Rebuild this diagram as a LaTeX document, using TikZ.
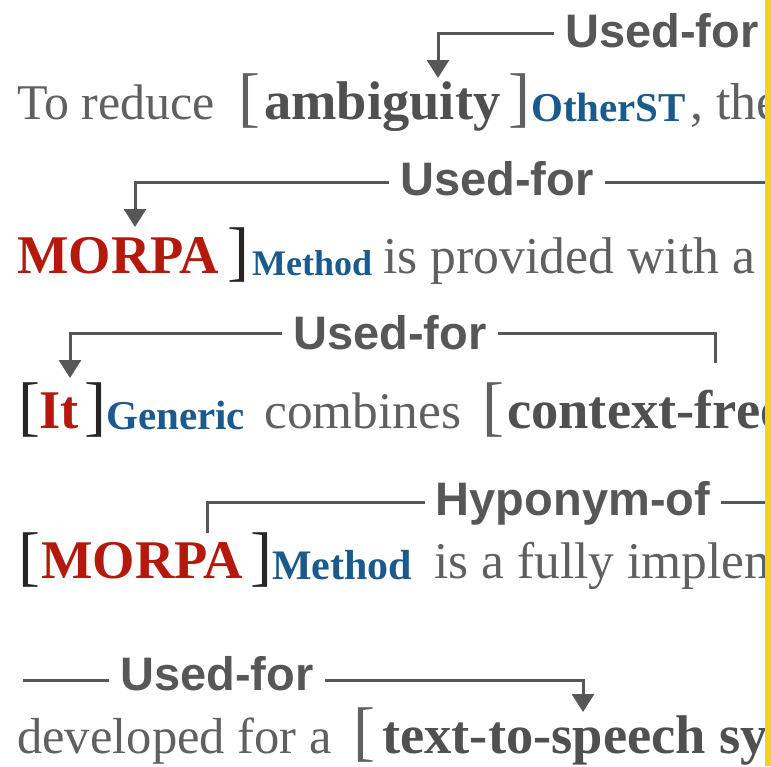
\documentclass[tikz,border=0pt]{standalone}
\usepackage{fontspec}
\setmainfont{Liberation Serif}
\newfontfamily\labelfont{Liberation Sans}
\usetikzlibrary{arrows.meta}

\definecolor{txt}{HTML}{606060}
\definecolor{entgrey}{HTML}{505050}
\definecolor{entred}{HTML}{B31A0D}
\definecolor{typeblue}{HTML}{1B5A8C}
\definecolor{relgrey}{HTML}{575757}
\definecolor{brkdark}{HTML}{262626}
\definecolor{edgeyellow}{HTML}{F4D121}
\definecolor{edgegrey}{HTML}{C8C8C8}

\tikzset{
  plain/.style={anchor=base west, inner sep=0pt, text=txt,
    font=\fontsize{#1}{#1}\selectfont},
  ent/.style={anchor=base west, inner sep=0pt, text=entgrey,
    font=\fontsize{54.5}{54.5}\selectfont\bfseries},
  redent/.style={ent, text=entred},
  etype/.style={anchor=base west, inner sep=0pt, text=typeblue,
    font=\fontsize{#1}{#1}\selectfont\bfseries},
  brk/.style={anchor=base west, inner sep=0pt, text=#1,
    font=\fontsize{66}{66}\selectfont},
  rel/.style={draw=relgrey, line width=3pt},
  tipped/.style={-{Triangle[length=18pt,width=22pt]}},
  rellabel/.style={anchor=base, inner xsep=11pt, inner ysep=0pt, text=relgrey,
    font=\labelfont\fontsize{47}{47}\selectfont\bfseries},
}

\begin{document}
\begin{tikzpicture}[x=1pt,y=-1pt]
\useasboundingbox (0,0) rectangle (771,766);

\begin{scope}
\clip (0,0) rectangle (765,766);

% sentence 1
\node[plain=50] (s1a) at (17,119) {To reduce};
\node[brk=txt] (s1b) at (238,119) {[};
\node[ent] (s1c) at (264,119) {ambiguity};
\node[brk=txt] (s1d) at (508,119) {]};
\node[etype=41] (s1e) at (531,121) {OtherST};
\node[plain=52] (s1f) at (690,119) {, the};

% sentence 2
\node[redent] (s2a) at (17,273) {MORPA};
\node[brk=brkdark] (s2b) at (227,273) {]};
\node[etype=36] (s2c) at (252,275) {Method};
\node[plain=51.7] (s2d) at (383,273) {is provided with a};

% sentence 3
\node[brk=brkdark] (s3a) at (18,428) {[};
\node[redent] (s3b) at (39,428) {It};
\node[brk=brkdark] (s3c) at (84,428) {]};
\node[etype=41] (s3d) at (106,429) {Generic};
\node[plain=51.4] (s3e) at (264,428) {combines};
\node[brk=txt] (s3f) at (482,428) {[};
\node[ent] (s3g) at (507,428) {context-free};

% sentence 4
\node[brk=brkdark] (s4a) at (18,578) {[};
\node[redent] (s4b) at (41,578) {MORPA};
\node[brk=brkdark] (s4c) at (250,578) {]};
\node[etype=42] (s4d) at (272,579) {Method};
\node[plain=51.5] (s4e) at (434,578) {is a fully implemented};

% sentence 5
\node[plain=50.6] (s5a) at (17,753) {developed for a};
\node[brk=txt] (s5b) at (353,753) {[};
\node[ent] (s5c) at (382,753) {text-to-speech system};

% relation labels
\node[rellabel] (r1) at (662,47) {Used-for};
\node[rellabel] (r2) at (497,195) {Used-for};
\node[rellabel] (r3) at (390,349) {Used-for};
\node[rellabel] (r4) at (573,515) {Hyponym-of};
\node[rellabel] (r5) at (217,690) {Used-for};

% heights of the connector runs
\coordinate (h1) at (0,33);
\coordinate (h2) at (0,182);
\coordinate (h3) at (0,333);
\coordinate (h4) at (0,502);
\coordinate (h5) at (0,680);

% connector ends
\coordinate (t1) at (438,78);
\coordinate (t2) at (135,227);
\coordinate (e2) at (765,182);
\coordinate (t3) at (70,378);
\coordinate (e3) at (715,363);
\coordinate (b4) at (207,533);
\coordinate (e4) at (765,502);
\coordinate (b5) at (23,680);
\coordinate (t5) at (583,712);

% connectors
\draw[rel,tipped] (r1.west |- h1) -| (t1);
\draw[rel,tipped] (r2.west |- h2) -| (t2);
\draw[rel] (r2.east |- h2) -- (e2);
\draw[rel,tipped] (r3.west |- h3) -| (t3);
\draw[rel] (r3.east |- h3) -| (e3);
\draw[rel] (b4) |- (r4.west |- h4);
\draw[rel] (r4.east |- h4) -- (e4);
\draw[rel] (b5) -- (r5.west |- h5);
\draw[rel,tipped] (r5.east |- h5) -| (t5);
\end{scope}

% right border strip
\fill[edgeyellow] (766,0) rectangle (771,766);
\draw[edgegrey, line width=1pt] (765.5,0) -- (765.5,766);
\end{tikzpicture}
\end{document}
